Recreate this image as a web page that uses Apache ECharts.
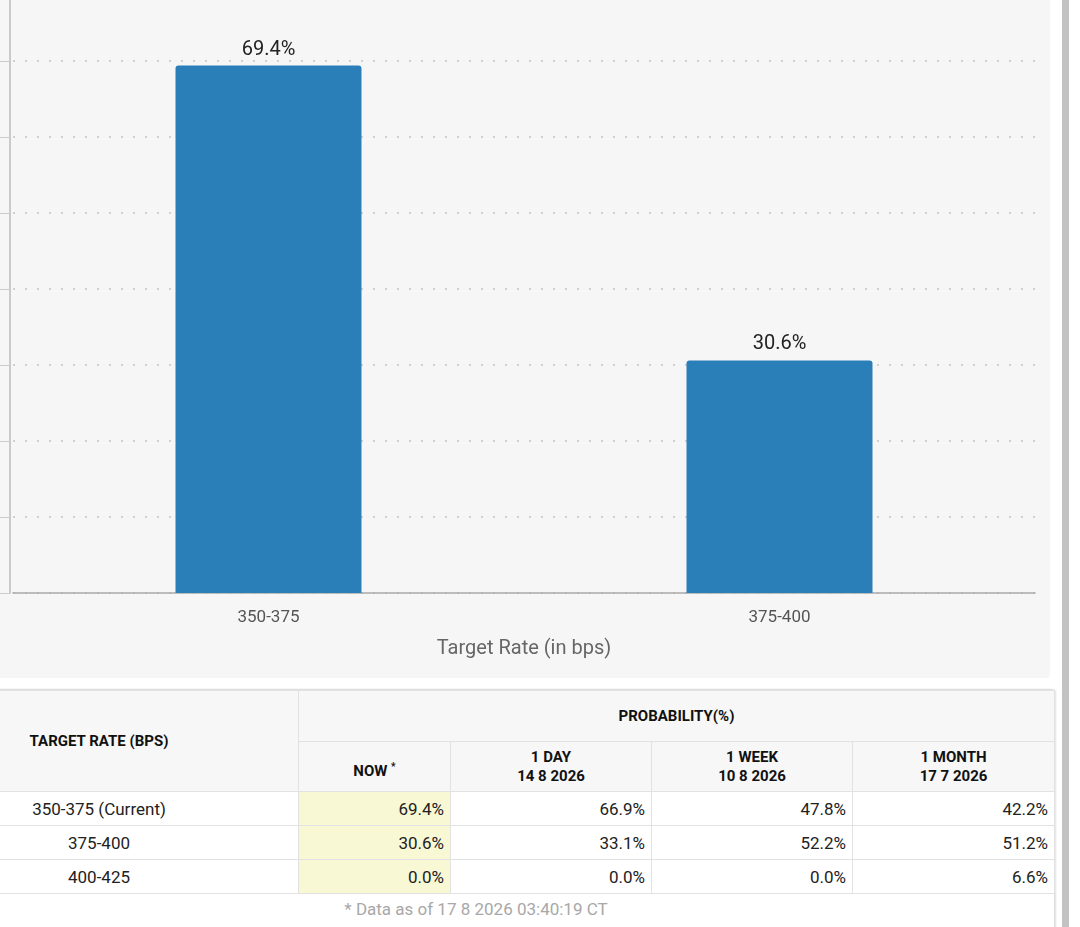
<!DOCTYPE html>
<html>
<head>
<meta charset="utf-8">
<script src="https://cdn.jsdelivr.net/npm/echarts@6/dist/echarts.min.js"></script>
<style>
  html, body { margin: 0; padding: 0; background: #fff; font-family: Roboto, "Noto Sans", sans-serif; }
  body { width: 1080px; height: 927px; overflow: hidden; position: relative; }
  #chart { position: absolute; left: 0; top: -20px; width: 1050px; height: 698px; background: #f6f6f6; border-radius: 0 0 4px 0; }
  #tableBox { position: absolute; left: -102px; top: 689px; width: 1155px; height: 260px; border: 1px solid #ddd; border-radius: 0 4px 0 0; box-shadow: 1px 0 2px rgba(0,0,0,0.12); background: #fff; }
  table { border-collapse: collapse; width: 1155px; table-layout: fixed; }
  th { background: #f7f7f7; color: #111; font-weight: 700; font-size: 15px; border: 1px solid #e2e2e2; line-height: 19px; padding: 0; }
  td { font-size: 17px; color: #222; border: 1px solid #e2e2e2; height: 33px; padding: 0 6px; text-align: right; }
  td.rate { text-align: center; }
  td.now { background: #f8f8d5; }
  #note { position: absolute; left: 0; top: 899px; width: 952px; text-align: center; color: #a8a8a8; font-size: 17px; }
  #scroll { position: absolute; left: 1062px; top: 0; width: 7px; height: 927px; background: #c2c2c2; }
</style>
</head>
<body>
<div id="chart"></div>
<div id="tableBox">
  <table id="probTable"></table>
</div>
<div id="note">* Data as of 17 8 2026 03:40:19 CT</div>
<div id="scroll"></div>
<script>
// chart data
const categories = ['350-375', '375-400'];
const nowValues = [69.4, 30.6];

// table data
const rateLabels = ['350-375 (Current)', '375-400', '400-425'];
const nowCol = ['69.4%', '30.6%', '0.0%'];
const dayCol = ['66.9%', '33.1%', '0.0%'];
const weekCol = ['47.8%', '52.2%', '0.0%'];
const monthCol = ['42.2%', '51.2%', '6.6%'];
const colTitles = ['1 DAY', '1 WEEK', '1 MONTH'];
const colDates = ['14 8 2026', '10 8 2026', '17 7 2026'];

const chart = echarts.init(document.getElementById('chart'));
chart.setOption({
  animation: false,
  grid: { left: 13, right: 15, top: 5, bottom: 85 },
  xAxis: {
    type: 'category',
    data: categories,
    name: 'Target Rate (in bps)',
    nameLocation: 'middle',
    nameGap: 46,
    nameTextStyle: { fontSize: 20, color: '#666', fontFamily: 'Roboto' },
    axisLine: { lineStyle: { color: '#aaa', width: 1.5 } },
    axisTick: { alignWithLabel: true, length: 7, lineStyle: { color: '#ccc' } },
    axisLabel: { fontSize: 17, color: '#555', margin: 16, fontFamily: 'Roboto' }
  },
  yAxis: {
    type: 'value',
    min: 0,
    max: 80,
    interval: 10,
    offset: 3,
    axisLine: { show: true, lineStyle: { color: '#bbb', width: 1.5 } },
    axisTick: { show: true, length: 10, lineStyle: { color: '#ccc' } },
    axisLabel: { show: false },
    splitLine: { lineStyle: { color: '#d0d0d0', width: 2, type: [2, 10] } }
  },
  series: [{
    type: 'bar',
    data: nowValues,
    barWidth: '36.4%',
    itemStyle: { color: '#2a7fb8', borderRadius: [3, 3, 0, 0] },
    label: {
      show: true,
      position: 'top',
      distance: 6,
      fontSize: 20,
      color: '#222',
      fontFamily: 'Roboto',
      formatter: p => p.value.toFixed(1) + '%'
    }
  }]
});

// build the table
let html = '<colgroup><col style="width:399px"><col style="width:152px"><col style="width:201px"><col style="width:201px"><col style="width:202px"></colgroup>';
html += '<tr style="height:51px"><th rowspan="2">TARGET RATE (BPS)</th><th colspan="4">PROBABILITY(%)</th></tr>';
html += '<tr style="height:50px"><th style="padding-top:4px">NOW <sup style="font-size:10px">*</sup></th>';
for (let i = 0; i < colTitles.length; i++) {
  html += '<th>' + colTitles[i] + '<br>' + colDates[i] + '</th>';
}
html += '</tr>';
for (let i = 0; i < rateLabels.length; i++) {
  html += '<tr style="height:34px"><td class="rate">' + rateLabels[i] + '</td><td class="now">' + nowCol[i] + '</td><td>' + dayCol[i] + '</td><td>' + weekCol[i] + '</td><td>' + monthCol[i] + '</td></tr>';
}
document.getElementById('probTable').innerHTML = html;
</script>
</body>
</html>
